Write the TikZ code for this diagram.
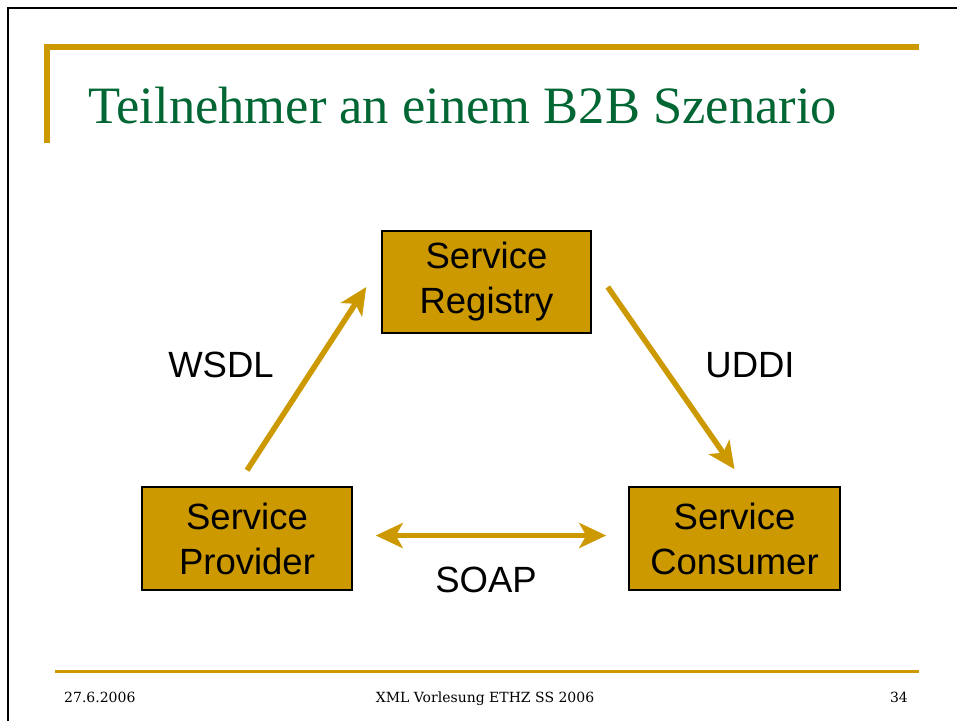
\documentclass[tikz,border=0pt]{standalone}
\usepackage{fontspec}
\setmainfont{Liberation Serif}
\newfontfamily\boxfont{Liberation Sans}
\newfontfamily\footfont{DejaVu Serif}
\usetikzlibrary{arrows.meta}
\definecolor{gold}{HTML}{CC9900}
\definecolor{titlegreen}{HTML}{006633}

\begin{document}
\begin{tikzpicture}[x=1pt,y=-1pt,
  frame/.style={draw=black, line width=2.5pt},
  bar/.style={fill=gold, draw=none},
  box/.style={draw=black, line width=1.5pt, fill=gold, align=center,
    inner sep=0pt, font=\boxfont\fontsize{36.5}{45}\selectfont},
  lbl/.style={inner sep=0pt, font=\boxfont\fontsize{36.5}{45}\selectfont},
  flow/.style={draw=gold, line width=5.5pt,
    >={Stealth[length=27pt,width=25pt,inset=7pt]}},
  foot/.style={inner sep=0pt, font=\footfont\fontsize{14}{16}\selectfont}]

  % page area
  \useasboundingbox (0,0) rectangle (957,721);
  \fill[white] (0,0) rectangle (957,721);

  % slide frame (top and left edges)
  \draw[frame] (8,721) -- (8,8) -- (957,8);

  % header bars
  \path[bar] (44,44) rectangle (919,50);
  \path[bar] (44,44) rectangle (50,143);

  % title
  \node[anchor=base west, inner sep=0pt, text=titlegreen,
        font=\fontsize{52.5}{58}\selectfont] (title) at (88,123)
        {Teilnehmer an einem B2B Szenario};

  % participants
  \node[box, minimum width=209pt, minimum height=102pt] (reg) at (486.5,282)
        {Service\\Registry};
  \node[box, minimum width=210pt, minimum height=103pt] (prov) at (247,538.5)
        {Service\\Provider};
  \node[box, minimum width=211pt, minimum height=103pt] (cons) at (734.5,538.5)
        {Service\\Consumer};

  % message flows
  \draw[flow, ->] ([yshift=16pt]prov.north) -- ([xshift=-15pt,yshift=-5pt]reg.west);
  \draw[flow, ->] ([xshift=16pt,yshift=-5pt]reg.east) -- ([yshift=17pt]cons.north);
  \draw[flow, <->] ([xshift=23pt,yshift=3pt]prov.east)
        -- ([xshift=-22pt,yshift=3pt]cons.west);

  % flow labels
  \node[lbl] (wsdl) at (221,365) {WSDL};
  \node[lbl] (uddi) at (750,365) {UDDI};
  \node[lbl] (soap) at (486,580) {SOAP};

  % footer
  \path[bar] (55,670) rectangle (919,673);
  \node[foot, anchor=base west] (date) at (64,702) {27.6.2006};
  \node[foot, anchor=base] (course) at (485,702) {XML Vorlesung ETHZ SS 2006};
  \node[foot, anchor=base east] (page) at (908,702) {34};
\end{tikzpicture}
\end{document}
